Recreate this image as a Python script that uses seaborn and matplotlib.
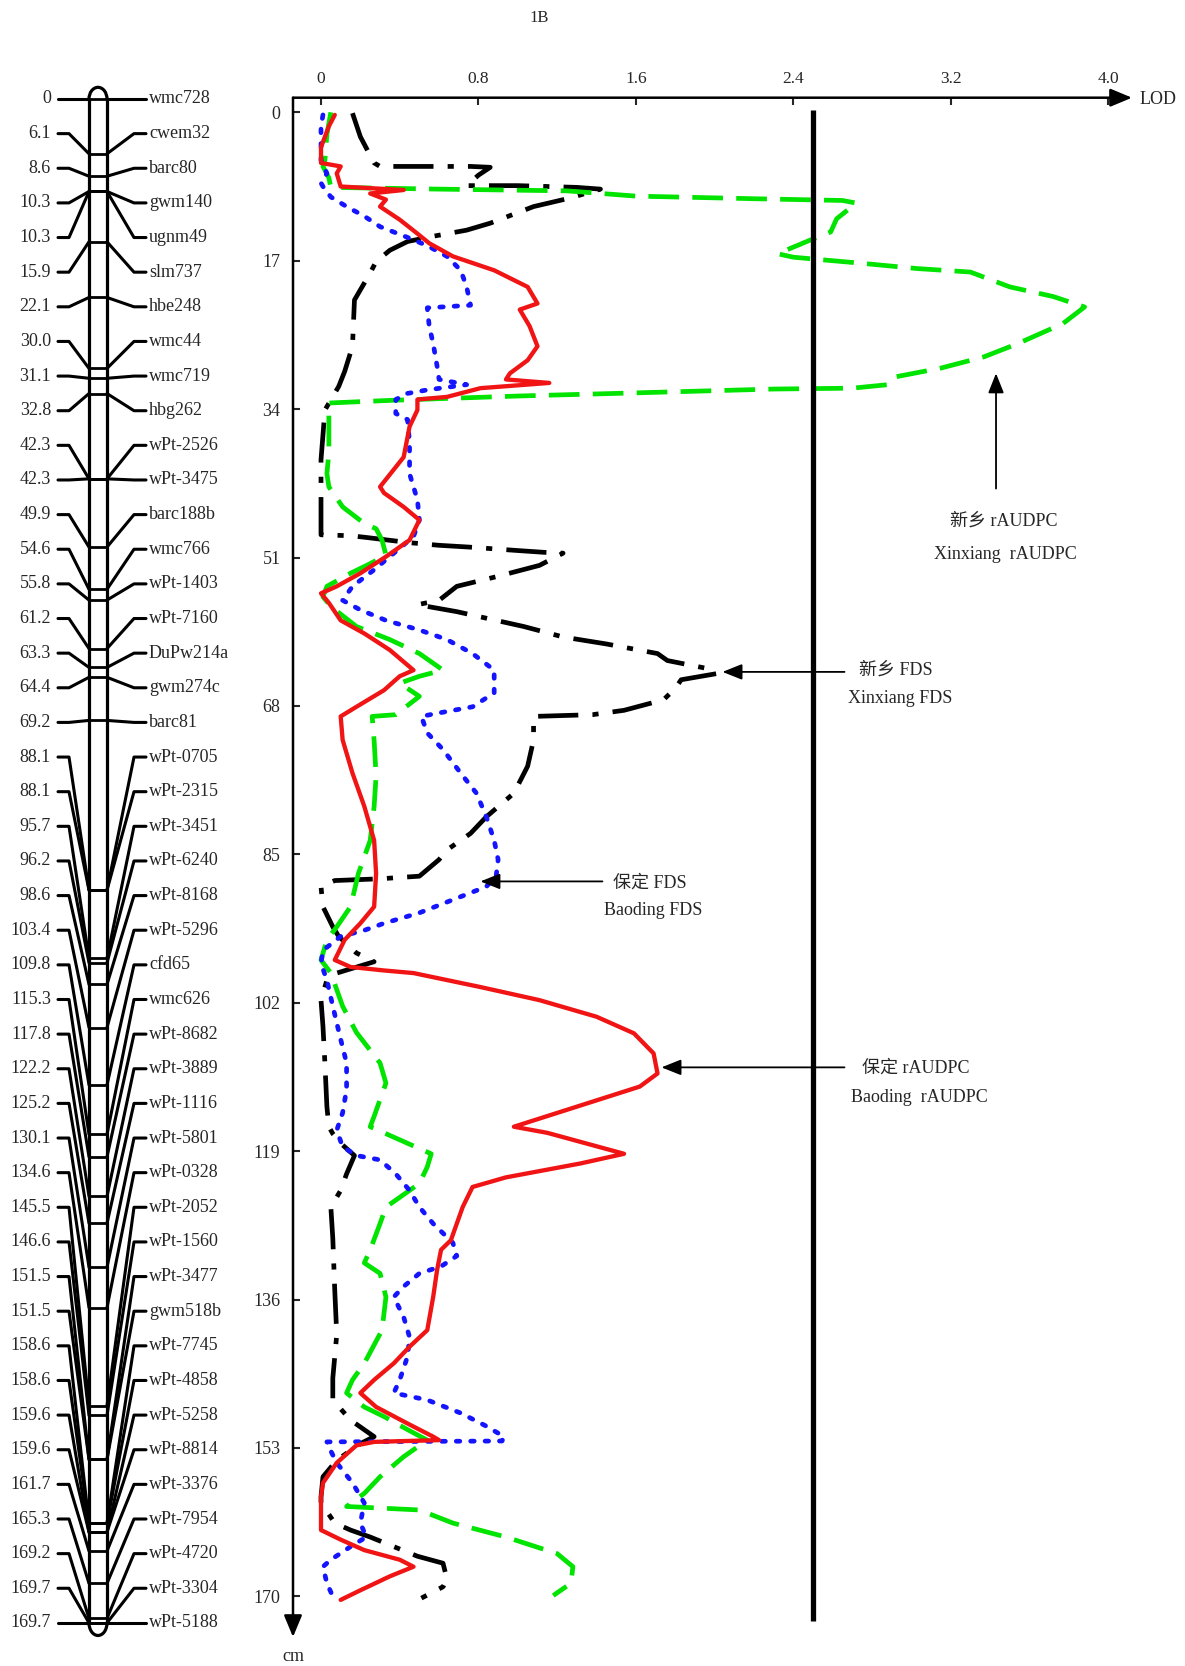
import numpy as np
import pandas as pd
import matplotlib
matplotlib.use("Agg")
import matplotlib.pyplot as plt
from matplotlib.patches import Arc
import seaborn as sns

# ---------------- linkage map of chromosome 1B ----------------
marker_names = ["wmc728", "cwem32", "barc80", "gwm140", "ugnm49", "slm737", "hbe248",
                "wmc44", "wmc719", "hbg262", "wPt-2526", "wPt-3475", "barc188b", "wmc766",
                "wPt-1403", "wPt-7160", "DuPw214a", "gwm274c", "barc81", "wPt-0705",
                "wPt-2315", "wPt-3451", "wPt-6240", "wPt-8168", "wPt-5296", "cfd65",
                "wmc626", "wPt-8682", "wPt-3889", "wPt-1116", "wPt-5801", "wPt-0328",
                "wPt-2052", "wPt-1560", "wPt-3477", "gwm518b", "wPt-7745", "wPt-4858",
                "wPt-5258", "wPt-8814", "wPt-3376", "wPt-7954", "wPt-4720", "wPt-3304",
                "wPt-5188"]
marker_pos = [0, 6.1, 8.6, 10.3, 10.3, 15.9, 22.1, 30.0, 31.1, 32.8, 42.3, 42.3, 49.9,
              54.6, 55.8, 61.2, 63.3, 64.4, 69.2, 88.1, 88.1, 95.7, 96.2, 98.6, 103.4,
              109.8, 115.3, 117.8, 122.2, 125.2, 130.1, 134.6, 145.5, 146.6, 151.5, 151.5,
              158.6, 158.6, 159.6, 159.6, 161.7, 165.3, 169.2, 169.7, 169.7]
marker_pos_labels = ["0"] + [f"{v:.1f}" for v in marker_pos[1:]]

# ---------------- LOD profiles along the chromosome ----------------
# Xinxiang rAUDPC
xx_raudpc_cm = [0.0, 2.5, 5.5, 6.2, 7.5, 8.6, 8.8, 9.0, 9.6, 9.9, 10.1, 10.4, 12.2, 13.7,
                14.6, 16.2, 16.6, 17.3, 17.9, 18.3, 20.0, 21.1, 22.3, 24.2, 26.5, 28.0,
                29.3, 30.3, 31.2, 31.6, 31.7, 32.2, 32.5, 33.0, 33.3, 36.0, 39.0, 41.4,
                42.9, 45.2, 47.1, 47.7, 49.0, 50.7, 51.7, 52.8, 54.3, 55.5, 56.6, 58.9,
                60.4, 62.0, 63.9, 64.6, 65.4, 66.9, 69.0, 69.2, 72.0, 76.0, 79.5, 83.4,
                87.2, 91.0, 93.3, 94.8, 97.1, 98.6, 102.4, 105.4, 108.9, 111.2, 115.0,
                116.2, 117.7, 119.3, 120.8, 122.7, 125.4, 127.3, 130.3, 131.8, 133.0,
                135.7, 139.5, 143.3, 145.2, 146.7, 148.3, 149.4, 150.9, 152.1, 154.0,
                156.3, 158.2, 159.7, 160.1, 161.6, 163.2, 165.1, 166.6, 168.5, 169.9]
xx_raudpc_lod = [0.05, 0.03, 0.02, 0.01, 0.04, 0.05, 0.60, 1.25, 1.60, 2.20, 2.65, 2.72,
                 2.62, 2.59, 2.49, 2.32, 2.40, 2.75, 3.03, 3.30, 3.50, 3.72, 3.88, 3.77,
                 3.54, 3.37, 3.15, 2.92, 2.88, 2.70, 2.30, 1.50, 1.00, 0.35, 0.04, 0.04,
                 0.04, 0.03, 0.04, 0.11, 0.22, 0.28, 0.31, 0.33, 0.25, 0.15, 0.03, 0.01,
                 0.05, 0.18, 0.35, 0.50, 0.62, 0.50, 0.40, 0.50, 0.38, 0.26, 0.27, 0.28,
                 0.27, 0.25, 0.19, 0.15, 0.08, 0.03, 0.00, 0.05, 0.11, 0.18, 0.30, 0.33,
                 0.27, 0.25, 0.40, 0.56, 0.54, 0.50, 0.33, 0.30, 0.25, 0.22, 0.30, 0.33,
                 0.31, 0.22, 0.16, 0.13, 0.22, 0.32, 0.44, 0.54, 0.42, 0.30, 0.22, 0.13,
                 0.50, 0.67, 0.94, 1.20, 1.28, 1.27, 1.18]

# Xinxiang FDS
xx_fds_cm = [0.1, 2.8, 5.8, 6.2, 6.2, 6.3, 7.2, 8.4, 8.4, 8.6, 8.8, 9.85, 10.8, 12.7,
             13.5, 14.2, 14.8, 15.8, 17.1, 18.4, 21.5, 26.8, 29.7, 31.4, 34.1, 39.8, 44.0,
             48.4, 48.5, 48.7, 49.3, 49.6, 49.8, 50.2, 50.4, 50.5, 51.9, 53.2, 54.3, 55.9,
             56.4, 57.2, 58.9, 60.1, 60.9, 62.0, 62.8, 63.7, 64.3, 65.0, 66.0, 67.3, 68.5,
             69.0, 69.2, 71.9, 74.9, 78.0, 80.7, 82.6, 84.5, 85.6, 87.5, 87.8, 88.0, 88.7,
             91.0, 93.3, 94.4, 96.3, 97.3, 98.6, 99.4, 101.7, 104.7, 109.0, 113.9, 116.2,
             117.0, 118.1, 119.5, 121.6, 123.5, 125.4, 129.0, 135.0, 140.0, 145.0, 147.5,
             149.8, 151.7, 152.5, 154.4, 156.3, 158.6, 159.3, 161.6, 162.4, 163.2, 164.3,
             165.4, 166.2, 168.0, 168.9, 170.2]
xx_fds_lod = [0.16, 0.20, 0.27, 0.30, 0.76, 0.86, 0.80, 0.74, 1.00, 1.30, 1.42, 1.26,
              1.08, 0.86, 0.74, 0.57, 0.44, 0.35, 0.28, 0.25, 0.17, 0.16, 0.12, 0.09, 0.02,
              0.00, 0.00, 0.00, 0.15, 0.23, 0.45, 0.60, 0.75, 1.00, 1.13, 1.23, 1.11, 0.89,
              0.69, 0.60, 0.49, 0.69, 1.03, 1.23, 1.45, 1.71, 1.76, 1.96, 2.01, 1.83, 1.80,
              1.74, 1.54, 1.38, 1.08, 1.08, 1.05, 0.98, 0.84, 0.76, 0.64, 0.60, 0.50, 0.30,
              0.07, 0.00, 0.01, 0.06, 0.09, 0.18, 0.27, 0.08, 0.03, 0.00, 0.01, 0.02, 0.03,
              0.04, 0.06, 0.10, 0.17, 0.13, 0.10, 0.05, 0.06, 0.07, 0.08, 0.06, 0.06, 0.15,
              0.27, 0.20, 0.08, 0.01, 0.00, 0.00, 0.07, 0.15, 0.25, 0.37, 0.49, 0.62, 0.64,
              0.62, 0.51]

# Baoding FDS
bd_fds_cm = [0.3, 1.6, 5.5, 7.0, 8.1, 8.5, 9.7, 10.8, 11.9, 13.1, 14.6, 15.4, 16.5, 18.1,
             20.0, 22.1, 22.4, 24.5, 26.5, 29.1, 30.6, 31.2, 31.8, 32.2, 32.9, 34.5, 35.2,
             37.9, 41.4, 44.4, 46.7, 48.6, 50.5, 52.4, 54.3, 55.9, 57.0, 58.2, 59.3, 60.4,
             62.0, 63.9, 66.5, 68.1, 68.8, 69.2, 71.1, 73.0, 75.7, 78.0, 80.7, 83.4, 85.6,
             87.5, 88.7, 90.2, 91.7, 92.9, 93.7, 94.4, 96.0, 97.5, 99.4, 102.4, 106.2, 108.9,
             111.9, 114.6, 116.6, 118.5, 119.5, 120.0, 121.6, 123.5, 125.4, 127.3, 129.5,
             131.0, 132.2, 133.0, 134.5, 135.7, 138.0, 140.3, 142.5, 145.2, 146.7, 147.5,
             149.0, 150.5, 151.7, 152.2, 152.3, 152.9, 154.7, 157.0, 159.3, 161.6, 163.2,
             164.3, 165.8, 166.6, 168.5, 170.0]
bd_fds_lod = [0.01, 0.00, 0.00, 0.03, 0.00, 0.01, 0.05, 0.13, 0.22, 0.30, 0.47, 0.55, 0.64,
              0.71, 0.74, 0.76, 0.54, 0.55, 0.57, 0.59, 0.60, 0.74, 0.54, 0.44, 0.38, 0.38,
              0.44, 0.45, 0.45, 0.49, 0.50, 0.47, 0.37, 0.27, 0.16, 0.11, 0.20, 0.33, 0.50,
              0.64, 0.77, 0.88, 0.88, 0.77, 0.60, 0.51, 0.54, 0.62, 0.71, 0.79, 0.84, 0.88,
              0.90, 0.89, 0.84, 0.67, 0.50, 0.32, 0.22, 0.10, 0.01, 0.00, 0.03, 0.06, 0.10,
              0.13, 0.13, 0.11, 0.08, 0.11, 0.18, 0.30, 0.38, 0.45, 0.50, 0.57, 0.67, 0.69,
              0.61, 0.50, 0.42, 0.37, 0.42, 0.45, 0.44, 0.40, 0.37, 0.54, 0.71, 0.84, 0.93,
              0.92, 0.03, 0.04, 0.08, 0.16, 0.22, 0.20, 0.23, 0.15, 0.05, 0.01, 0.03, 0.06]

# Baoding rAUDPC
bd_raudpc_cm = [0.3, 1.6, 4.0, 5.8, 6.2, 7.0, 8.5, 8.9, 9.3, 10.0, 10.8, 12.3, 13.9, 15.0,
                16.5, 18.1, 20.0, 21.9, 22.6, 24.5, 26.8, 28.4, 29.9, 30.6, 31.0, 31.6,
                32.6, 32.9, 34.1, 36.0, 39.5, 42.9, 43.6, 45.2, 46.7, 49.0, 50.9, 52.8,
                54.3, 55.1, 56.2, 58.2, 59.7, 61.6, 63.9, 64.6, 66.2, 68.1, 69.2, 71.9,
                75.7, 79.5, 83.4, 87.2, 91.0, 92.9, 94.8, 97.1, 97.9, 98.3, 98.6, 100.2,
                101.7, 103.6, 105.5, 107.8, 110.1, 111.6, 113.9, 116.2, 116.9, 119.3,
                120.4, 122.0, 123.1, 125.4, 129.2, 130.3, 132.6, 135.7, 139.5, 141.4,
                143.3, 145.2, 146.7, 148.3, 150.2, 151.7, 152.1, 152.3, 152.7, 154.7,
                157.0, 158.6, 162.4, 163.5, 164.7, 165.8, 166.6, 167.7, 169.3, 170.4]
bd_raudpc_lod = [0.07, 0.04, 0.00, 0.00, 0.10, 0.08, 0.10, 0.42, 0.25, 0.33, 0.30, 0.40,
                 0.49, 0.55, 0.67, 0.88, 1.05, 1.10, 1.01, 1.06, 1.10, 1.05, 0.96, 0.94,
                 1.16, 0.81, 0.64, 0.49, 0.49, 0.45, 0.42, 0.30, 0.32, 0.42, 0.50, 0.45,
                 0.33, 0.20, 0.08, 0.00, 0.04, 0.10, 0.22, 0.35, 0.47, 0.40, 0.32, 0.18,
                 0.10, 0.11, 0.16, 0.22, 0.27, 0.28, 0.27, 0.20, 0.12, 0.07, 0.15, 0.32,
                 0.47, 0.81, 1.11, 1.40, 1.59, 1.69, 1.71, 1.62, 1.30, 0.98, 1.15, 1.54,
                 1.32, 0.94, 0.77, 0.72, 0.66, 0.61, 0.59, 0.57, 0.54, 0.45, 0.37, 0.27,
                 0.20, 0.28, 0.44, 0.57, 0.60, 0.27, 0.18, 0.08, 0.01, 0.00, 0.00, 0.10,
                 0.22, 0.40, 0.47, 0.35, 0.20, 0.10]

THRESHOLD = 2.5
lod_ticks = [0, 0.8, 1.6, 2.4, 3.2, 4.0]
lod_tick_labels = ["0", "0.8", "1.6", "2.4", "3.2", "4.0"]
cm_ticks = [0, 17, 34, 51, 68, 85, 102, 119, 136, 153, 170]

# ---------------- figure setup ----------------
W, H = 1185, 1666
sns.set_style("white")
plt.rcParams["font.family"] = ["Liberation Serif", "Noto Sans CJK SC"]
plt.rcParams["axes.unicode_minus"] = False

fig = plt.figure(figsize=(W / 100, H / 100), dpi=100)

# pixel geometry of the LOD panel
lod0_px, px_per_lod = 321.0, 196.8
cm0_px, px_per_cm = 112.3, 8.73
ax_l, ax_r, ax_t, ax_b = 293.0, 1132.0, 97.7, 1637.0

ax = fig.add_axes([ax_l / W, 1 - ax_b / H, (ax_r - ax_l) / W, (ax_b - ax_t) / H])
ax.set_facecolor("none")
ax.set_xlim((ax_l - lod0_px) / px_per_lod, (ax_r - lod0_px) / px_per_lod)
ax.set_ylim((ax_b - cm0_px) / px_per_cm, (ax_t - cm0_px) / px_per_cm)

profiles = [
    (xx_fds_cm, xx_fds_lod, "black", (0, (8.5, 3.0, 1.3, 3.0)), "butt", 3.4),
    (xx_raudpc_cm, xx_raudpc_lod, "#00e400", (0, (6.5, 2.8)), "butt", 3.4),
    (bd_fds_cm, bd_fds_lod, "#1414ff", (0, (0.75, 2.3)), "round", 3.4),
    (bd_raudpc_cm, bd_raudpc_lod, "#f01414", "-", "round", 3.1),
]
for cm, lod, col, ls, cap, lw in profiles:
    df = pd.DataFrame({"LOD": lod, "cM": cm})
    sns.lineplot(data=df, x="LOD", y="cM", sort=False, estimator=None, ax=ax,
                 color=col, linewidth=lw, linestyle=ls, dash_capstyle=cap,
                 solid_capstyle="round", solid_joinstyle="round")

# significance threshold
ax.vlines(THRESHOLD, -0.25, 172.8, color="black", linewidth=3.8)

# axes with arrow heads
for s in ax.spines.values():
    s.set_visible(False)
arrow_kw = dict(arrowstyle="-|>,head_length=0.6,head_width=0.25", lw=1.8, color="black",
                mutation_scale=22, shrinkA=0, shrinkB=0)
ax.annotate("", xy=(1, 1), xytext=(0, 1), xycoords="axes fraction", arrowprops=arrow_kw)
ax.annotate("", xy=(0, 0), xytext=(0, 1), xycoords="axes fraction", arrowprops=arrow_kw)

ax.xaxis.tick_top()
ax.set_xticks(lod_ticks)
ax.set_xticklabels(lod_tick_labels)
ax.set_yticks(cm_ticks)
ax.set_yticklabels([str(t) for t in cm_ticks])
ax.tick_params(axis="x", direction="in", length=5, width=1.5, pad=7.5, labelsize=12.5,
               top=True, bottom=False)
ax.tick_params(axis="y", direction="in", length=5, width=1.5, pad=9, labelsize=13,
               left=True, right=False)
ax.set_xlabel("")
ax.set_ylabel("")
ax.text(1.0095, 0.999, "LOD", transform=ax.transAxes, ha="left", va="center", fontsize=13)
ax.text(0.0, -0.0125, "cm", transform=ax.transAxes, ha="center", va="center", fontsize=13)

# trait annotations
ann_kw = dict(arrowstyle="-|>,head_length=0.5,head_width=0.2", lw=1.3, color="black",
              mutation_scale=24, shrinkA=0, shrinkB=0)
ax.annotate("", xy=(3.43, 29.9), xytext=(3.43, 43.1), arrowprops=ann_kw)
ax.text(3.47, 46.8, "新乡 rAUDPC", ha="center", va="center", fontsize=13)
ax.text(3.475, 50.6, "Xinxiang  rAUDPC", ha="center", va="center", fontsize=13)

ax.annotate("", xy=(2.04, 64.1), xytext=(2.66, 64.1), arrowprops=ann_kw)
ax.text(2.92, 63.9, "新乡 FDS", ha="center", va="center", fontsize=13)
ax.text(2.945, 67.2, "Xinxiang FDS", ha="center", va="center", fontsize=13)

ax.annotate("", xy=(0.81, 88.1), xytext=(1.43, 88.1), arrowprops=ann_kw)
ax.text(1.672, 88.25, "保定 FDS", ha="center", va="center", fontsize=13)
ax.text(1.686, 91.4, "Baoding FDS", ha="center", va="center", fontsize=13)

ax.annotate("", xy=(1.73, 109.4), xytext=(2.66, 109.4), arrowprops=ann_kw)
ax.text(3.02, 109.5, "保定 rAUDPC", ha="center", va="center", fontsize=13)
ax.text(3.043, 112.9, "Baoding  rAUDPC", ha="center", va="center", fontsize=13)

fig.text(539 / W, 1 - 18 / H, "1B", ha="center", va="center", fontsize=12)

# ---------------- chromosome drawing ----------------
bar_top_px, bar_px_per_cm = 99.0, 8.98
axm = fig.add_axes([0, 0, 290 / W, 1])
axm.set_facecolor("none")
axm.set_xlim(0, 290)
axm.set_ylim((H - bar_top_px) / bar_px_per_cm, -bar_top_px / bar_px_per_cm)
axm.axis("off")

bar_left, bar_right = 89, 107
chrom_start, chrom_end = marker_pos[0], marker_pos[-1]
rows = np.linspace(chrom_start, chrom_end, len(marker_names))

axm.vlines([bar_left, bar_right], chrom_start, chrom_end, color="black", linewidth=2.3)
axm.hlines(marker_pos, bar_left, bar_right, color="black", linewidth=2.0)
axm.add_patch(Arc(((bar_left + bar_right) / 2, chrom_start), bar_right - bar_left, 2.6,
                  theta1=180, theta2=360, color="black", lw=2.3))
axm.add_patch(Arc(((bar_left + bar_right) / 2, chrom_end), bar_right - bar_left, 2.8,
                  theta1=0, theta2=180, color="black", lw=2.3))

for name, pos, lab, row in zip(marker_names, marker_pos, marker_pos_labels, rows):
    axm.plot([58, 69, bar_left], [row, row, pos], color="black", lw=2.2,
             solid_joinstyle="round")
    axm.plot([bar_right, 134, 146], [pos, row, row], color="black", lw=2.2,
             solid_joinstyle="round")
    axm.text(51, row, lab, ha="right", va="center", fontsize=13)
    axm.text(149, row, name, ha="left", va="center", fontsize=13)

fig.savefig("out.png", dpi=100, facecolor="white")
